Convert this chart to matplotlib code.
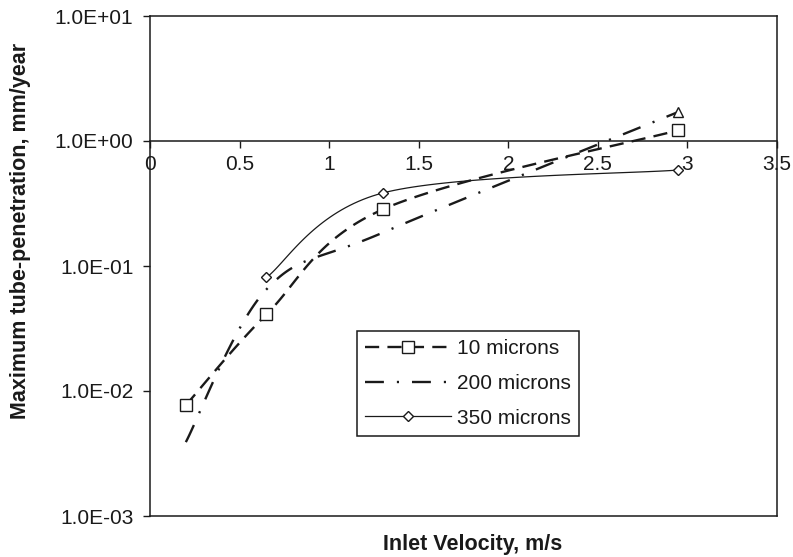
import numpy as np
import matplotlib
matplotlib.use('Agg')
import matplotlib.pyplot as plt
from matplotlib.ticker import FuncFormatter

# values (velocity in m/s, penetration in mm/year)
velocity = [0.2, 0.65, 1.3, 2.95]
pen_10 = [7.7e-3, 0.041, 0.284, 1.22]
pen_200 = [3.9e-3, 0.065, 0.185, 1.71]
velocity_350 = [0.65, 1.3, 2.95]
pen_350 = [0.081, 0.384, 0.586]

x_ticks = [0, 0.5, 1, 1.5, 2, 2.5, 3, 3.5]
x_tick_labels = ['0', '0.5', '1', '1.5', '2', '2.5', '3', '3.5']
y_ticks = [1e-3, 1e-2, 1e-1, 1e0, 1e1]

plt.rcParams['font.family'] = ['Liberation Sans', 'DejaVu Sans']

SX, SY = 179.0, 125.0   # rough px per unit / per decade, for the smoothing
N = 40


def smooth(xs, ys):
    """excel-like smoothed line (bezier through the points)"""
    P = np.column_stack([np.array(xs) * SX, np.log10(ys) * SY])
    Pe = np.vstack([P[0], P, P[-1]])
    t = np.linspace(0, 1, N)[:, None]
    out = []
    for i in range(len(P) - 1):
        p0, p3 = Pe[i + 1], Pe[i + 2]
        c1 = p0 + (Pe[i + 2] - Pe[i]) / 6
        c2 = p3 - (Pe[i + 3] - Pe[i + 1]) / 6
        seg = (1 - t) ** 3 * p0 + 3 * (1 - t) ** 2 * t * c1 + 3 * (1 - t) * t ** 2 * c2 + t ** 3 * p3
        out.append(seg if i == 0 else seg[1:])
    out = np.vstack(out)
    marks = [i * (N - 1) for i in range(len(P))]
    return out[:, 0] / SX, 10 ** (out[:, 1] / SY), marks


fig = plt.figure(figsize=(7.93, 5.57), dpi=100)
ax = fig.add_axes([150 / 793, 1 - 516 / 557, 627 / 793, 500 / 557])

col = '#1a1a1a'

x, y, m = smooth(velocity, pen_10)
ax.plot(x, y, color=col, lw=1.7, dashes=(6, 3.5), marker='s', markevery=m,
        ms=8, mfc='white', mec=col, mew=1.0, label='10 microns')

x, y, m = smooth(velocity, pen_200)
ax.plot(x, y, color=col, lw=1.7, dashes=(8, 5.5, 0.9, 5.5), label='200 microns')
ax.plot(velocity[-1:], pen_200[-1:], ls='none', marker='^', ms=7,
        mfc='white', mec=col, mew=1.0)

x, y, m = smooth(velocity_350, pen_350)
ax.plot(x, y, color=col, lw=0.9, marker='D', markevery=m, ms=5.5,
        mfc='white', mec=col, mew=1.0, label='350 microns')

ax.set_yscale('log')
ax.set_ylim(1e-3, 1e1)
ax.set_xlim(0, 3.5)
ax.set_yticks(y_ticks)
ax.yaxis.set_major_formatter(FuncFormatter(lambda v, p: f'{v:.1E}'))
ax.minorticks_off()
ax.set_xticks(x_ticks)
ax.set_xticklabels(x_tick_labels)

ax.spines['bottom'].set_position(('data', 1))
for s in ax.spines.values():
    s.set_linewidth(1.1)
    s.set_color(col)
ax.plot([0, 1], [0, 0], transform=ax.transAxes, color=col, lw=1.1, clip_on=False)

ax.tick_params(axis='both', direction='out', length=5, width=1, color=col,
               labelsize=15, labelcolor=col)
ax.tick_params(axis='x', pad=5)
ax.tick_params(axis='y', pad=7)

ax.set_xlabel('Inlet Velocity, m/s', fontsize=15.5, fontweight='bold', color=col)
ax.xaxis.set_label_coords(0.515, -0.036)
ax.set_ylabel('Maximum tube-penetration, mm/year', fontsize=15.5,
              fontweight='bold', color=col)
ax.yaxis.set_label_coords(-0.19, 0.57)

leg = ax.legend(loc='lower left', bbox_to_anchor=(0.33, 0.16), borderaxespad=0,
                fontsize=15, handlelength=4.1, handletextpad=0.3,
                labelspacing=0.75, borderpad=0.4,
                fancybox=False, edgecolor=col, framealpha=1, numpoints=1)
leg.get_frame().set_linewidth(1.1)
for t in leg.get_texts():
    t.set_color(col)

fig.savefig('out.png', dpi=100)
